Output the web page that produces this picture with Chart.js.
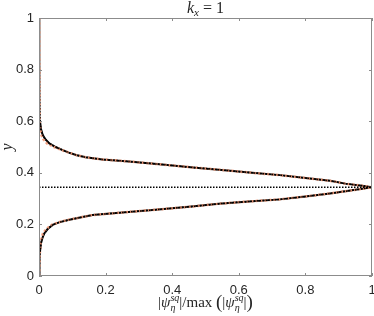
<!DOCTYPE html>
<html>
<head>
<meta charset="utf-8">
<script src="https://cdn.jsdelivr.net/npm/chart.js@4.4.0/dist/chart.umd.min.js"></script>
<style>
  html, body { margin: 0; padding: 0; background: #fff; }
  canvas { display: block; }
</style>
</head>
<body>
<canvas id="miGrafico" width="374" height="316"></canvas>
<script>
// y positions (shared by every profile), lower branch -> peak -> upper branch
const yGrid = [0, 0.036, 0.08, 0.127, 0.15, 0.165, 0.182, 0.198, 0.208, 0.217, 0.226, 0.236,
  0.246, 0.257, 0.268, 0.28, 0.288, 0.297, 0.308, 0.32, 0.332, 0.344,
  0.35, 0.358, 0.369, 0.38, 0.391, 0.4, 0.408, 0.42, 0.432, 0.444, 0.452, 0.46, 0.469,
  0.478, 0.488, 0.5, 0.514, 0.53, 0.547, 0.57, 0.6, 0.7, 0.85, 1.0];

// |psi| / max(|psi|) for each profile
const xBlack = [0, 0.001, 0.002, 0.006, 0.011, 0.016, 0.026, 0.041, 0.06, 0.088, 0.12, 0.16,
  0.25, 0.35, 0.45, 0.54, 0.62, 0.724, 0.80, 0.874, 0.94, 1.0,
  0.97, 0.92, 0.874, 0.80, 0.724, 0.64, 0.574, 0.47, 0.37, 0.27, 0.19, 0.14, 0.111,
  0.09, 0.071, 0.05, 0.031, 0.019, 0.011, 0.006, 0.003, 0.0015, 0.0008, 0.0005];
const xOrange = [0, 0.001, 0.002, 0.005, 0.008, 0.012, 0.022, 0.038, 0.058, 0.086, 0.12, 0.16,
  0.25, 0.35, 0.45, 0.54, 0.62, 0.724, 0.80, 0.874, 0.94, 1.0,
  0.97, 0.92, 0.874, 0.80, 0.724, 0.64, 0.574, 0.47, 0.37, 0.27, 0.19, 0.14, 0.111,
  0.09, 0.069, 0.045, 0.024, 0.013, 0.007, 0.004, 0.002, 0.0015, 0.0008, 0.0005];
const xDotted = xBlack;

// horizontal dotted line at the peak
const peakLineX = [0, 1];
const peakLineY = [0.344, 0.344];

const tickValues = [0, 0.2, 0.4, 0.6, 0.8, 1];

const toPoints = (xs, ys) => xs.map((x, i) => ({ x: x, y: ys[i] }));

const axisColor = '#8c8c8c';
const textColor = '#262626';
const serif = '"Liberation Serif", "DejaVu Serif", serif';

// draws a row of text pieces (normal / italic / sub / sup) centred on cx
function drawRich(ctx, segs, cx, cy) {
  let total = 0;
  segs.forEach(s => {
    ctx.font = s.f;
    s.w = ctx.measureText(s.t).width;
    if (s.adv !== false) total += s.w;
  });
  let x = cx - total / 2;
  ctx.textBaseline = 'alphabetic';
  ctx.textAlign = 'left';
  segs.forEach(s => {
    ctx.font = s.f;
    ctx.fillText(s.t, x, cy + (s.dy || 0));
    if (s.adv !== false) x += s.w;
  });
}

const framePlugin = {
  id: 'frame',
  afterDraw(chart) {
    const { ctx, chartArea: a, scales } = chart;
    ctx.save();
    ctx.strokeStyle = axisColor;
    ctx.lineWidth = 1;
    ctx.strokeRect(Math.round(a.left) + 0.5, Math.round(a.top) + 0.5,
      Math.round(a.right - a.left) - 1, Math.round(a.bottom - a.top) - 1);
    ctx.beginPath();
    tickValues.forEach(v => {
      const px = Math.round(scales.x.getPixelForValue(v)) + 0.5;
      ctx.moveTo(px, a.bottom); ctx.lineTo(px, a.bottom - 3);
      ctx.moveTo(px, a.top); ctx.lineTo(px, a.top + 3);
      const py = Math.round(scales.y.getPixelForValue(v)) + 0.5;
      ctx.moveTo(a.left, py); ctx.lineTo(a.left + 3, py);
      ctx.moveTo(a.right, py); ctx.lineTo(a.right - 3, py);
    });
    ctx.stroke();

    ctx.fillStyle = textColor;
    const N = '15px ' + serif, I = 'italic 15px ' + serif, S = 'italic 10px ' + serif;
    const P = '19px ' + serif;
    const cx = (a.left + a.right) / 2;
    // title
    drawRich(ctx, [
      { t: 'k', f: 'italic 16px ' + serif },
      { t: 'x', f: 'italic 11px ' + serif, dy: 3 },
      { t: ' = 1', f: '16px ' + serif }
    ], cx, 13);
    // x label
    drawRich(ctx, [
      { t: '|', f: N }, { t: 'ψ', f: I },
      { t: 'η', f: S, dy: 4, adv: false }, { t: 'sq', f: S, dy: -6 },
      { t: '|/max', f: N }, { t: ' ', f: N },
      { t: '(', f: P, dy: 1 },
      { t: '|', f: N }, { t: 'ψ', f: I },
      { t: 'η', f: S, dy: 4, adv: false }, { t: 'sq', f: S, dy: -6 },
      { t: '|', f: N },
      { t: ')', f: P, dy: 1 }
    ], cx, 307);
    // y label
    ctx.save();
    ctx.translate(12, (a.top + a.bottom) / 2);
    ctx.rotate(-Math.PI / 2);
    ctx.font = 'italic 16px ' + serif;
    ctx.textAlign = 'center';
    ctx.fillText('y', 0, 0);
    ctx.restore();
    ctx.restore();
  }
};

const ctx = document.getElementById('miGrafico').getContext('2d');

new Chart(ctx, {
  type: 'scatter',
  data: {
    datasets: [
      {
        label: 'dotted',
        data: toPoints(xDotted, yGrid),
        showLine: true,
        borderColor: '#000000',
        borderWidth: 1.5,
        borderDash: [1.5, 1.5],
        pointRadius: 0,
        order: 0
      },
      {
        label: 'peak',
        data: toPoints(peakLineX, peakLineY),
        showLine: true,
        borderColor: '#000000',
        borderWidth: 1.3,
        borderDash: [1.5, 1.5],
        pointRadius: 0,
        order: 0
      },
      {
        label: 'orange',
        data: toPoints(xOrange, yGrid),
        showLine: true,
        borderColor: 'rgba(240, 150, 115, 0.9)',
        borderWidth: 2.5,
        borderDash: [2.5, 2],
        pointRadius: 0,
        order: 1
      },
      {
        label: 'solid',
        data: toPoints(xBlack, yGrid),
        showLine: true,
        borderColor: '#000000',
        borderWidth: 2,
        pointRadius: 0,
        order: 2
      }
    ]
  },
  options: {
    responsive: false,
    animation: false,
    devicePixelRatio: 1,
    layout: { padding: { left: 0, right: 2, top: 18, bottom: 0 } },
    plugins: {
      legend: { display: false },
      tooltip: { enabled: false }
    },
    scales: {
      x: {
        type: 'linear',
        min: 0, max: 1,
        grid: { display: false, drawTicks: false },
        border: { display: false },
        ticks: {
          stepSize: 0.2,
          padding: 7,
          color: textColor,
          font: { family: '"Liberation Sans", Arial, sans-serif', size: 13 },
          callback: v => String(+v.toFixed(1))
        },
        afterFit: s => { s.height = 40; s.paddingLeft = 0; s.paddingRight = 0; }
      },
      y: {
        type: 'linear',
        min: 0, max: 1,
        grid: { display: false, drawTicks: false },
        border: { display: false },
        ticks: {
          stepSize: 0.2,
          padding: 5,
          color: textColor,
          font: { family: '"Liberation Sans", Arial, sans-serif', size: 13 },
          callback: v => String(+v.toFixed(1))
        },
        afterFit: s => { s.width = 39; s.paddingTop = 0; s.paddingBottom = 0; }
      }
    }
  },
  plugins: [framePlugin]
});
</script>
</body>
</html>
